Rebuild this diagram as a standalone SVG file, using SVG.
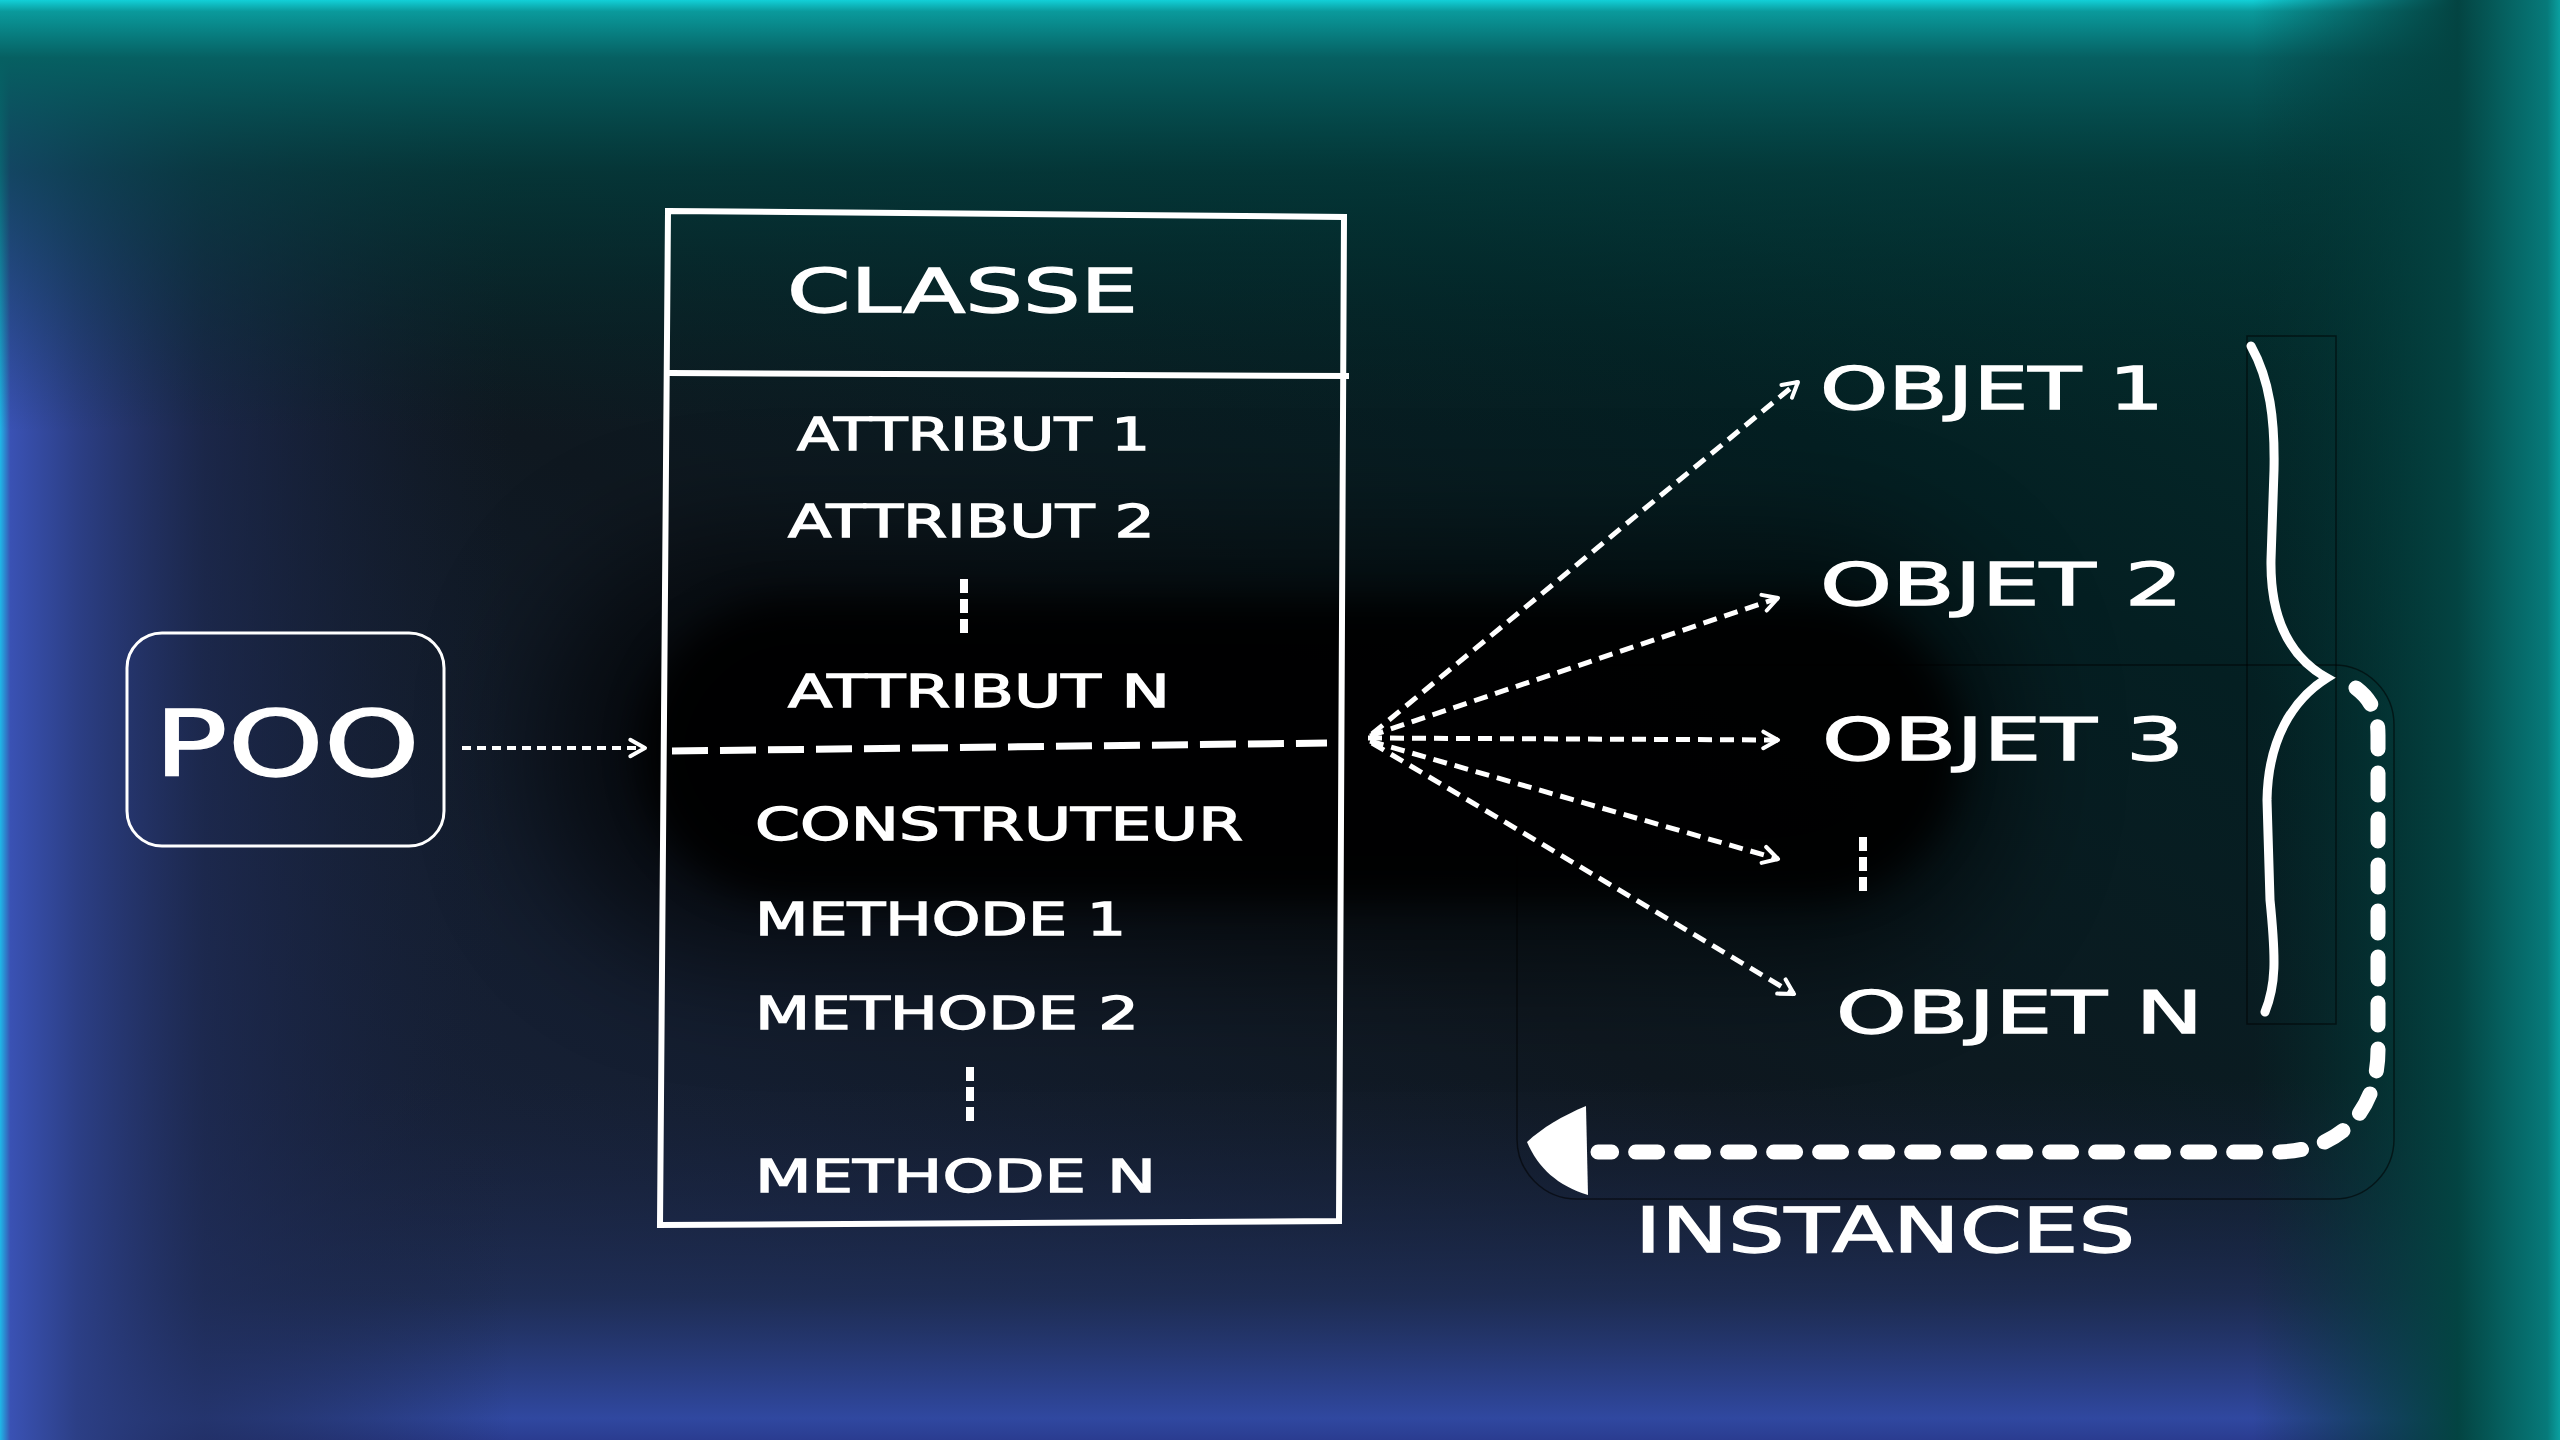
<svg xmlns="http://www.w3.org/2000/svg" width="2560" height="1440" viewBox="0 0 2560 1440">
<style>
.t{font-family:"DejaVu Sans","Liberation Sans",sans-serif;fill:#fff;stroke:#fff;stroke-width:1.3;}
.box{fill:none;stroke:#fff;stroke-width:6;stroke-linecap:square;}
.fan{fill:none;stroke:#fff;stroke-width:5;stroke-dasharray:14 8;}
.dots{stroke:#fff;stroke-width:8;stroke-dasharray:14 6;}
.faint{fill:none;stroke:#000;stroke-width:1.5;opacity:0.55;}
</style>
<defs>
<linearGradient id="gBase" x1="0" y1="1" x2="1" y2="0">
<stop offset="0" stop-color="#1c2748"/>
<stop offset="0.45" stop-color="#0f1820"/>
<stop offset="0.7" stop-color="#041f22"/>
<stop offset="1" stop-color="#033634"/>
</linearGradient>
<linearGradient id="gTop" x1="0" y1="0" x2="0" y2="1">
<stop offset="0" stop-color="#12d0d8"/>
<stop offset="0.008" stop-color="#0a9a9c"/>
<stop offset="0.04" stop-color="#066062"/>
<stop offset="0.12" stop-color="#034040" stop-opacity="0.7"/>
<stop offset="0.3" stop-color="#022a2a" stop-opacity="0"/>
</linearGradient>
<linearGradient id="gLeft" x1="0" y1="0" x2="1" y2="0">
<stop offset="0" stop-color="#1fb8e8"/>
<stop offset="0.004" stop-color="#3a52b4"/>
<stop offset="0.03" stop-color="#2c3f86"/>
<stop offset="0.08" stop-color="#1f2c58" stop-opacity="0.7"/>
<stop offset="0.2" stop-color="#161f36" stop-opacity="0"/>
</linearGradient>
<linearGradient id="gBot" x1="0" y1="0" x2="0" y2="1">
<stop offset="0.75" stop-color="#1a2440" stop-opacity="0"/>
<stop offset="0.9" stop-color="#20305c" stop-opacity="0.8"/>
<stop offset="0.985" stop-color="#3048a0"/>
<stop offset="1" stop-color="#2a3c90"/>
</linearGradient>
<linearGradient id="gRight" x1="0" y1="0" x2="1" y2="0">
<stop offset="0.88" stop-color="#023030" stop-opacity="0"/>
<stop offset="0.96" stop-color="#034442"/>
<stop offset="0.995" stop-color="#077a7a"/>
<stop offset="1" stop-color="#0aa0a0"/>
</linearGradient>
<filter id="blur" x="-30%" y="-60%" width="160%" height="220%">
<feGaussianBlur stdDeviation="60"/>
</filter>
<filter id="blur2" x="-30%" y="-60%" width="160%" height="220%">
<feGaussianBlur stdDeviation="18"/>
</filter>
<marker id="chev" viewBox="0 0 12 12" refX="10" refY="6" markerWidth="22" markerHeight="22" markerUnits="userSpaceOnUse" orient="auto">
<path d="M2,1.5 L10,6 L2,10.5" fill="none" stroke="#fff" stroke-width="2.2" stroke-linecap="round" stroke-linejoin="round"/>
</marker>
</defs>

<g id="background">
<rect x="0" y="0" width="2560" height="1440" fill="url(#gBase)"/>
<rect x="0" y="0" width="2560" height="1440" fill="url(#gBot)"/>
<rect x="0" y="0" width="2560" height="1440" fill="url(#gLeft)"/>
<rect x="0" y="0" width="2560" height="1440" fill="url(#gTop)"/>
<rect x="0" y="0" width="2560" height="1440" fill="url(#gRight)"/>
<rect x="540" y="540" width="1460" height="420" rx="190" fill="#000" opacity="0.6" filter="url(#blur)"/>
<rect x="640" y="600" width="1320" height="300" rx="150" fill="#000" opacity="0.9" filter="url(#blur2)"/>
<rect x="1517" y="665" width="877" height="534" rx="60" class="faint"/>
<rect x="2247" y="336" width="89" height="688" class="faint"/>
</g>

<g id="poo">
<rect x="127" y="633" width="317" height="213" rx="35" fill="none" stroke="#fff" stroke-width="3"/>
<text class="t" x="154" y="776" font-size="90" textLength="266" lengthAdjust="spacingAndGlyphs">POO</text>
</g>

<g id="classe">
<path class="box" d="M668,211 L1344,217 L1339,1221 L660,1225 Z"/>
<path class="box" d="M670,373 L1346,376"/>
<path d="M672,751 L1327,743" fill="none" stroke="#fff" stroke-width="7" stroke-dasharray="36 12"/>
<text class="t" x="787" y="312" font-size="60" textLength="351" lengthAdjust="spacingAndGlyphs">CLASSE</text>
<text class="t" x="797" y="450" font-size="44" textLength="353" lengthAdjust="spacingAndGlyphs">ATTRIBUT 1</text>
<text class="t" x="788" y="537" font-size="44" textLength="367" lengthAdjust="spacingAndGlyphs">ATTRIBUT 2</text>
<line class="dots" x1="964" y1="579" x2="964" y2="633"/>
<text class="t" x="788" y="707" font-size="44" textLength="382" lengthAdjust="spacingAndGlyphs">ATTRIBUT N</text>
<text class="t" x="755" y="840" font-size="44" textLength="488" lengthAdjust="spacingAndGlyphs">CONSTRUTEUR</text>
<text class="t" x="755" y="935" font-size="44" textLength="371" lengthAdjust="spacingAndGlyphs">METHODE  1</text>
<text class="t" x="755" y="1029" font-size="44" textLength="384" lengthAdjust="spacingAndGlyphs">METHODE  2</text>
<line class="dots" x1="970" y1="1067" x2="970" y2="1121"/>
<text class="t" x="755" y="1192" font-size="44" textLength="401" lengthAdjust="spacingAndGlyphs">METHODE  N</text>
</g>

<g id="objet1"><text class="t" x="1820" y="409" font-size="59" textLength="344" lengthAdjust="spacingAndGlyphs">OBJET 1</text></g>
<g id="objet2"><text class="t" x="1820" y="605" font-size="59" textLength="363" lengthAdjust="spacingAndGlyphs">OBJET 2</text></g>
<g id="objet3"><text class="t" x="1822" y="760" font-size="59" textLength="362" lengthAdjust="spacingAndGlyphs">OBJET 3</text></g>
<g id="objet-dots"><line class="dots" x1="1863" y1="837" x2="1863" y2="891"/></g>
<g id="objetN"><text class="t" x="1836" y="1033" font-size="59" textLength="367" lengthAdjust="spacingAndGlyphs">OBJET N</text></g>

<g id="brace">
<path d="M2251,346 C2270,380 2275,420 2274,470 L2271,560 C2270,625 2295,660 2327,678 C2292,700 2268,740 2267,800 L2270,900 C2276,960 2276,985 2265,1012" fill="none" stroke="#fff" stroke-width="9" stroke-linecap="round" stroke-linejoin="miter"/>
</g>

<g id="instances">
<text class="t" x="1635" y="1252" font-size="62" textLength="500" lengthAdjust="spacingAndGlyphs">INSTANCES</text>
</g>

<g id="connectors">
<path d="M462,748 L645,748" fill="none" stroke="#fff" stroke-width="4" stroke-dasharray="9 6" marker-end="url(#chev)"/>
<path class="fan" d="M1372,734 L1798,382" marker-end="url(#chev)"/>
<path class="fan" d="M1370,736 L1778,598" marker-end="url(#chev)"/>
<path class="fan" d="M1368,738 L1778,740" marker-end="url(#chev)"/>
<path class="fan" d="M1370,741 L1778,859" marker-end="url(#chev)"/>
<path class="fan" d="M1372,743 L1794,994" marker-end="url(#chev)"/>
<path d="M2356,688 C2372,700 2378,715 2378,735 L2378,1050 C2378,1110 2340,1152 2275,1152 L1598,1152" fill="none" stroke="#fff" stroke-width="15" stroke-linecap="round" stroke-dasharray="22 24"/>
<path d="M1586,1106 C1562,1116 1542,1128 1527,1142 C1538,1168 1558,1186 1588,1195 Z" fill="#fff"/>
</g>
</svg>
